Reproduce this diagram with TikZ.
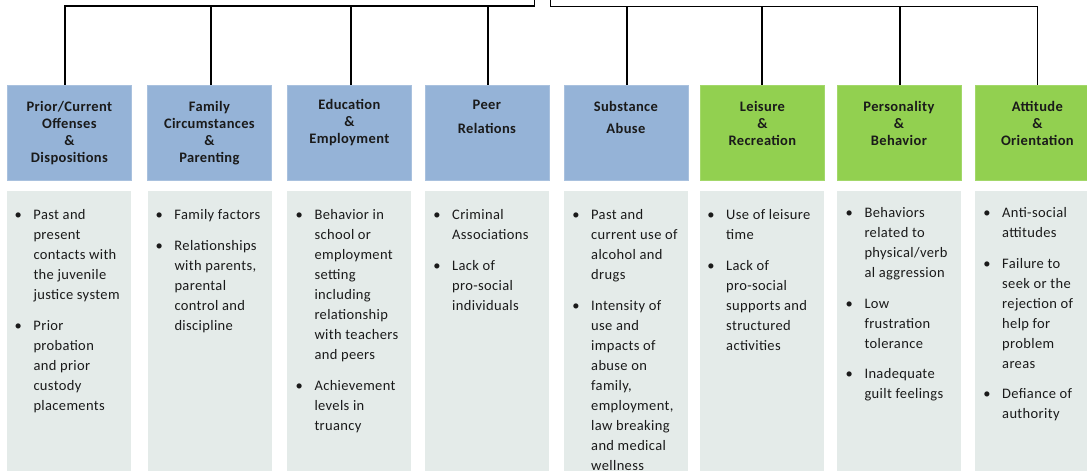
\documentclass[tikz,border=0pt]{standalone}
\usepackage{fontspec}
\setmainfont{Carlito}[LetterSpace=2.5]
\usepackage{array}
\definecolor{hblue}{HTML}{95B3D7}
\definecolor{hblueedge}{HTML}{A9C1DE}
\definecolor{hgreen}{HTML}{92D050}
\definecolor{hgreenedge}{HTML}{A3D86A}
\definecolor{bodyfill}{HTML}{E4EBE9}
\definecolor{ink}{HTML}{1A1A1A}
\newcommand\bul{\llap{\makebox[0pt][c]{\textbullet}\hspace{15.3pt}}}
\newcommand\gap{\\[10.7pt]}
\tikzset{
  hbox/.style={rectangle, inner sep=0pt, minimum width=124pt, minimum height=95pt, anchor=north west, line width=0.8pt},
  bluebox/.style={hbox, fill=hblue, draw=hblueedge},
  greenbox/.style={hbox, fill=hgreen, draw=hgreenedge},
  bodybox/.style={rectangle, inner sep=0pt, minimum width=124pt, minimum height=295pt, anchor=north west, fill=bodyfill},
  htext/.style={inner sep=0pt, anchor=base, text=ink, font=\fontsize{14.5}{17}\selectfont\bfseries},
  btext/.style={inner sep=0pt, anchor=base west, text=ink, font=\fontsize{14.5}{20}\selectfont},
  conn/.style={line width=1.6pt, black}
}
\begin{document}
\begin{tikzpicture}[x=1pt,y=-1pt]
\useasboundingbox (0,0) rectangle (1087,471);
\fill[white] (0,0) rectangle (1087,471);
% header boxes
\node[bluebox] (h1) at (7,85) {};
\node[bluebox] (h2) at (147,85) {};
\node[bluebox] (h3) at (287,85) {};
\node[bluebox] (h4) at (424.5,85) {};
\node[bluebox] (h5) at (563.5,85) {};
\node[greenbox] (h6) at (700,85) {};
\node[greenbox] (h7) at (836.5,85) {};
\node[greenbox] (h8) at (975,85) {};
% body boxes
\node[bodybox] (b1) at (7,191) {};
\node[bodybox] (b2) at (148,191) {};
\node[bodybox] (b3) at (287,191) {};
\node[bodybox] (b4) at (424.5,191) {};
\node[bodybox] (b5) at (563.5,191) {};
\node[bodybox] (b6) at (699.5,191) {};
\node[bodybox] (b7) at (836.5,191) {};
\node[bodybox] (b8) at (975,191) {};
% connectors
\coordinate (tl) at (534.5,0);
\coordinate (tr) at (550.5,0);
\coordinate (j1) at (65,6);
\coordinate (j2) at (211,6);
\coordinate (j3) at (351,6);
\coordinate (j4) at (488,6);
\coordinate (k5) at (627,6.5);
\coordinate (k6) at (762,6.5);
\coordinate (k7) at (900,6.5);
\coordinate (k8) at (1037.5,6.5);
\draw[conn] (tl) |- (j1) -- (j1 |- h1.north);
\draw[conn] (j2) -- (j2 |- h2.north);
\draw[conn] (j3) -- (j3 |- h3.north);
\draw[conn] (j4) -- (j4 |- h4.north);
\draw[conn] (tr) |- (k8) -- (k8 |- h8.north);
\draw[conn] (k5) -- (k5 |- h5.north);
\draw[conn] (k6) -- (k6 |- h6.north);
\draw[conn] (k7) -- (k7 |- h7.north);
% header texts
\path (h1.north) ++(0,26.5) node[htext] (t1) {\begin{tabular}[t]{@{}c@{}}Prior/Current\\Offenses\\\&\\Dispositions\end{tabular}};
\path (h2.north) ++(0,26.5) node[htext] (t2) {\begin{tabular}[t]{@{}c@{}}Family\\Circumstances\\\&\\Parenting\end{tabular}};
\path (h3.north) ++(0,24) node[htext] (t3) {\begin{tabular}[t]{@{}c@{}}Education\\\&\\Employment\end{tabular}};
\path (h4.north) ++(0,24) node[htext] (t4) {\begin{tabular}[t]{@{}c@{}}Peer\\[7pt]Relations\end{tabular}};
\path (h5.north) ++(0,26.5) node[htext] (t5) {\begin{tabular}[t]{@{}c@{}}Substance\\[5.3pt]Abuse\end{tabular}};
\path (h6.north) ++(0,26.5) node[htext] (t6) {\begin{tabular}[t]{@{}c@{}}Leisure\\\&\\Recreation\end{tabular}};
\path (h7.north) ++(0,26.5) node[htext] (t7) {\begin{tabular}[t]{@{}c@{}}Personality\\\&\\Behavior\end{tabular}};
\path (h8.north) ++(0,26.5) node[htext] (t8) {\begin{tabular}[t]{@{}c@{}}Attitude\\\&\\Orientation\end{tabular}};
% body texts
\node[btext] (c1) at (33.3,219.5) {\begin{tabular}[t]{@{}l@{}}\bul Past and\\present\\contacts with\\the juvenile\\justice system\gap\bul Prior\\probation\\and prior\\custody\\placements\end{tabular}};
\node[btext] (c2) at (174.3,219.5) {\begin{tabular}[t]{@{}l@{}}\bul Family factors\gap\bul Relationships\\with parents,\\parental\\control and\\discipline\end{tabular}};
\node[btext] (c3) at (314.3,219.5) {\begin{tabular}[t]{@{}l@{}}\bul Behavior in\\school or\\employment\\setting\\including\\relationship\\with teachers\\and peers\gap\bul Achievement\\levels in\\truancy\end{tabular}};
\node[btext] (c4) at (452,219.5) {\begin{tabular}[t]{@{}l@{}}\bul Criminal\\Associations\gap\bul Lack of\\pro-social\\individuals\end{tabular}};
\node[btext] (c5) at (591,219.5) {\begin{tabular}[t]{@{}l@{}}\bul Past and\\current use of\\alcohol and\\drugs\gap\bul Intensity of\\use and\\impacts of\\abuse on\\family,\\employment,\\law breaking\\and medical\\wellness\end{tabular}};
\node[btext] (c6) at (726,219.5) {\begin{tabular}[t]{@{}l@{}}\bul Use of leisure\\time\gap\bul Lack of\\pro-social\\supports and\\structured\\activities\end{tabular}};
\node[btext] (c7) at (864.3,217.5) {\begin{tabular}[t]{@{}l@{}}\bul Behaviors\\related to\\physical/verb\\al aggression\gap\bul Low\\frustration\\tolerance\gap\bul Inadequate\\guilt feelings\end{tabular}};
\node[btext] (c8) at (1002,217.5) {\begin{tabular}[t]{@{}l@{}}\bul Anti-social\\attitudes\gap\bul Failure to\\seek or the\\rejection of\\help for\\problem\\areas\gap\bul Defiance of\\authority\end{tabular}};
\end{tikzpicture}
\end{document}
